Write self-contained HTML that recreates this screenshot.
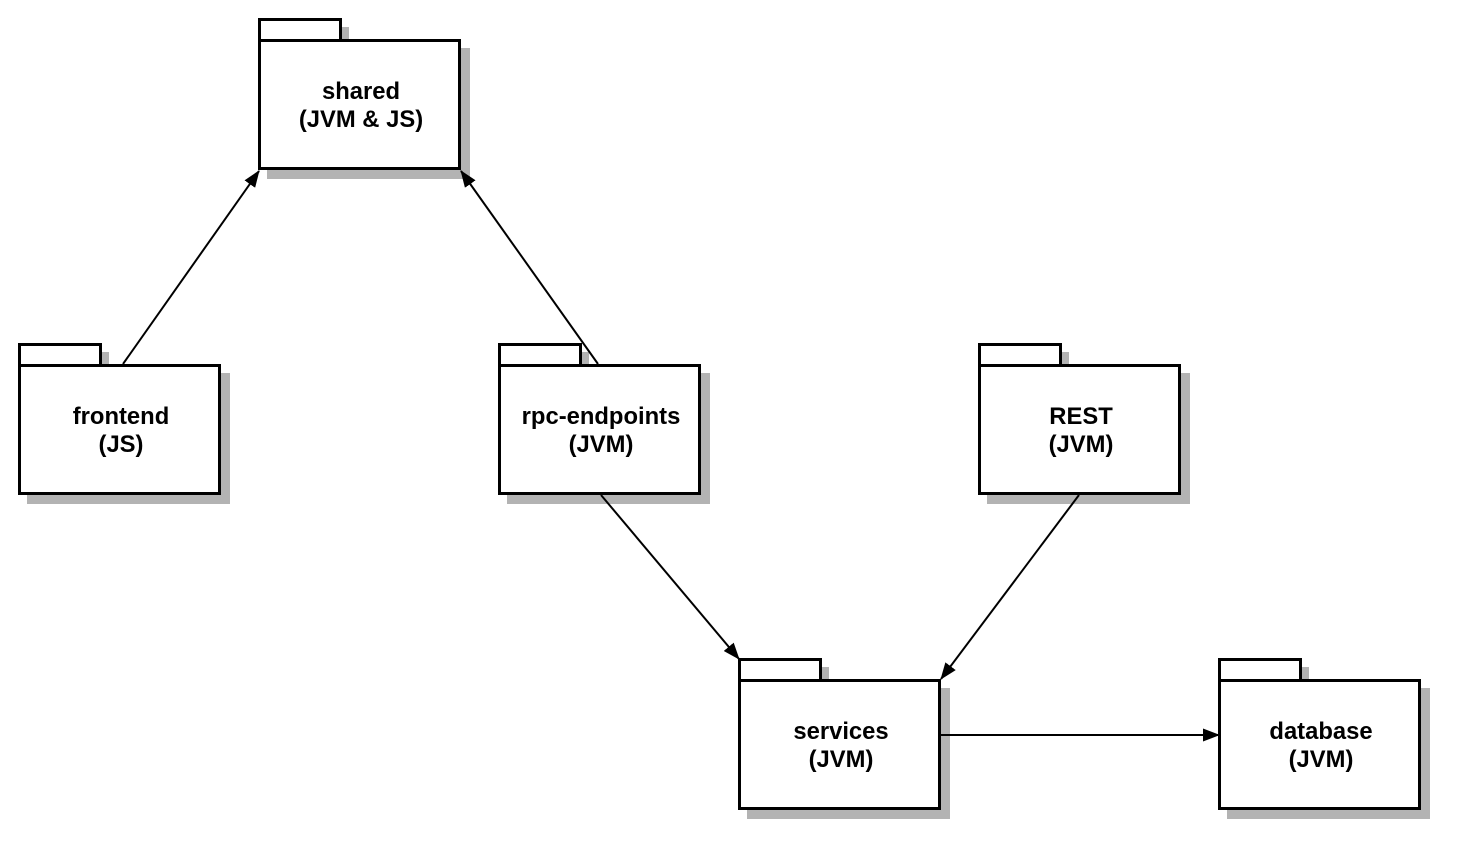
<!DOCTYPE html>
<html><head><style>body{margin:0;background:#fff}svg{display:block}</style></head>
<body>
<svg width="1464" height="850" xmlns="http://www.w3.org/2000/svg" font-family="Liberation Sans, sans-serif" font-weight="bold" font-size="23.8">
<defs>
<marker id="a" markerWidth="17" markerHeight="13" refX="16" refY="6.5" orient="auto" markerUnits="userSpaceOnUse"><path d="M0,0 L17,6.5 L0,13 z" fill="#000"/></marker>
<g id="p">
<rect x="9" y="-12" width="82" height="21" fill="#b3b3b3"/>
<rect x="9" y="9" width="203" height="131" fill="#b3b3b3"/>
<rect x="1.5" y="-19.5" width="81" height="21" fill="#fff" stroke="#000" stroke-width="3"/>
<rect x="1.5" y="1.5" width="200" height="128" fill="#fff" stroke="#000" stroke-width="3"/>
</g>
</defs>
<use href="#p" x="258" y="39"/>
<use href="#p" x="18" y="364"/>
<use href="#p" x="498" y="364"/>
<use href="#p" x="978" y="364"/>
<use href="#p" x="738" y="679"/>
<use href="#p" x="1218" y="679"/>
<g text-anchor="middle">
<text x="361" y="99">shared</text><text x="361" y="127">(JVM &amp; JS)</text>
<text x="121" y="424">frontend</text><text x="121" y="452">(JS)</text>
<text x="601" y="424">rpc-endpoints</text><text x="601" y="452">(JVM)</text>
<text x="1081" y="424">REST</text><text x="1081" y="452">(JVM)</text>
<text x="841" y="739">services</text><text x="841" y="767">(JVM)</text>
<text x="1321" y="739">database</text><text x="1321" y="767">(JVM)</text>
</g>
<g stroke="#000" stroke-width="2" fill="none">
<line x1="123" y1="364" x2="259" y2="171" marker-end="url(#a)"/>
<line x1="598" y1="364" x2="461" y2="171" marker-end="url(#a)"/>
<line x1="601" y1="495" x2="739" y2="659" marker-end="url(#a)"/>
<line x1="1079" y1="495" x2="941" y2="679" marker-end="url(#a)"/>
<line x1="941" y1="735" x2="1219" y2="735" marker-end="url(#a)"/>
</g>
</svg>
</body></html>
